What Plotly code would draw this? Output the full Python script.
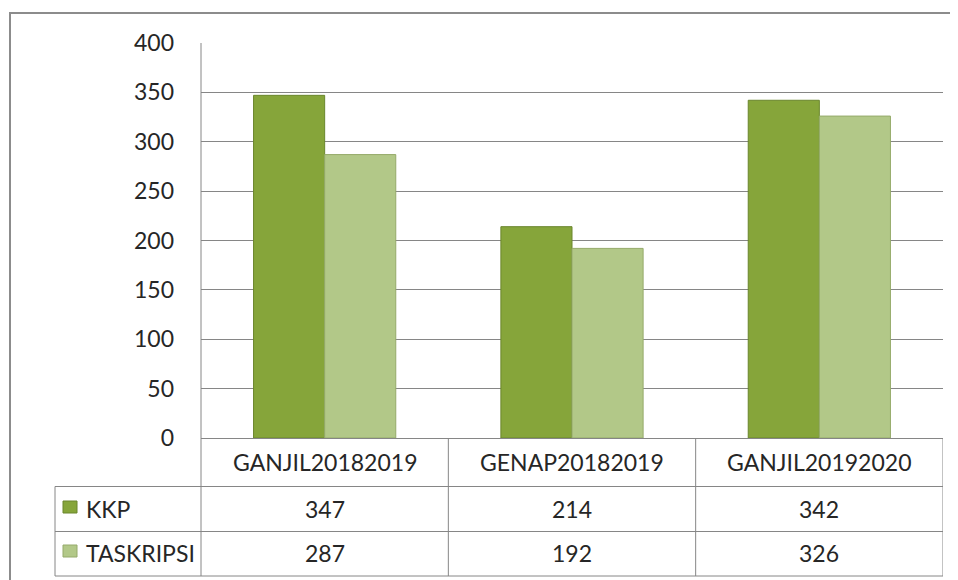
import plotly.graph_objects as go

categories = ["GANJIL20182019", "GENAP20182019", "GANJIL20192020"]
series_names = ["KKP", "TASKRIPSI"]
kkp = [347, 214, 342]
taskripsi = [287, 192, 326]
y_ticks = [0, 50, 100, 150, 200, 250, 300, 350, 400]

W, H = 958, 580
OFF = 8  # page body margin compensation
colors = ["#86A53A", "#B2C888"]
edge = ["#6A862C", "#95AA6A"]
FONT = "Lato"
FS = 23
TXT = "#262626"
LINE = "#868686"

def py(p):
    return 1 - (p - OFF) / H

def px(p):
    return (p - OFF) / W

x_left, x_right = 201, 943
y_top, y_base = 43, 438
row1, row2, row3 = 486.5, 531.5, 576

fig = go.Figure()
for name, vals, c, e in zip(series_names, [kkp, taskripsi], colors, edge):
    fig.add_trace(go.Bar(
        x=list(range(len(categories))), y=vals, name=name,
        marker=dict(color=c, line=dict(color=e, width=1)),
        showlegend=False, hoverinfo="y",
    ))

shapes = []
# outer frame
shapes.append(dict(type="rect", xref="paper", yref="paper",
                   x0=px(10), x1=px(990), y0=py(620), y1=py(13),
                   line=dict(color="#8C8C8C", width=2), layer="below"))
# vertical axis line extending through the table
shapes.append(dict(type="line", xref="paper", yref="paper",
                   x0=px(x_left), x1=px(x_left), y0=py(row3), y1=py(y_top),
                   line=dict(color=LINE, width=1)))
for yy in [row1, row2, row3]:
    shapes.append(dict(type="line", xref="paper", yref="paper",
                       x0=px(55), x1=px(x_right), y0=py(yy), y1=py(yy),
                       line=dict(color=LINE, width=1)))
shapes.append(dict(type="line", xref="paper", yref="paper",
                   x0=px(55), x1=px(55), y0=py(row3), y1=py(row1),
                   line=dict(color=LINE, width=1)))
for i in range(len(categories)):
    xb = i + 0.5
    shapes.append(dict(type="line", xref="x", yref="paper",
                       x0=xb, x1=xb, y0=py(row3), y1=py(y_base),
                       line=dict(color=LINE, width=1)))

annotations = []
for i, cat in enumerate(categories):
    annotations.append(dict(x=i, y=py(462), xref="x", yref="paper", text=cat,
                            xanchor="center", yanchor="middle", showarrow=False,
                            font=dict(family=FONT, size=FS, color=TXT)))
rows_y = [509, 553]
for r, (name, vals, c, e) in enumerate(zip(series_names, [kkp, taskripsi], colors, edge)):
    yc = rows_y[r]
    shapes.append(dict(type="rect", xref="paper", yref="paper",
                       x0=px(63), x1=px(77), y0=py(yc + 4), y1=py(yc - 8),
                       fillcolor=c, line=dict(color=e, width=1)))
    annotations.append(dict(x=px(84), y=py(yc), xref="paper", yref="paper", text=name,
                            xanchor="left", yanchor="middle", showarrow=False,
                            font=dict(family=FONT, size=FS, color=TXT)))
    for i, v in enumerate(vals):
        annotations.append(dict(x=i, y=py(yc), xref="x", yref="paper", text=str(v),
                                xanchor="center", yanchor="middle", showarrow=False,
                                font=dict(family=FONT, size=FS, color=TXT)))

fig.update_layout(
    width=W, height=H, autosize=False,
    margin=dict(l=0, r=0, t=0, b=0, pad=0),
    paper_bgcolor="white", plot_bgcolor="white",
    barmode="group", bargap=0.425, bargroupgap=0,
    shapes=shapes, annotations=annotations,
    font=dict(family=FONT, size=FS, color=TXT),
    xaxis=dict(domain=[px(x_left), px(x_right)], range=[-0.5, 2.5], automargin=False,
               showticklabels=False, showgrid=False, zeroline=False,
               showline=False, fixedrange=True),
    yaxis=dict(domain=[py(y_base), py(y_top)], range=[0, 400], automargin=False,
               tickvals=y_ticks, ticktext=[str(t) for t in y_ticks],
               showgrid=True, gridcolor=LINE, gridwidth=1,
               zeroline=True, zerolinecolor=LINE, zerolinewidth=1,
               showline=False, ticks="", ticklabelstandoff=26,
               tickfont=dict(family=FONT, size=FS, color=TXT), fixedrange=True),
)

fig.write_html("out.html")
